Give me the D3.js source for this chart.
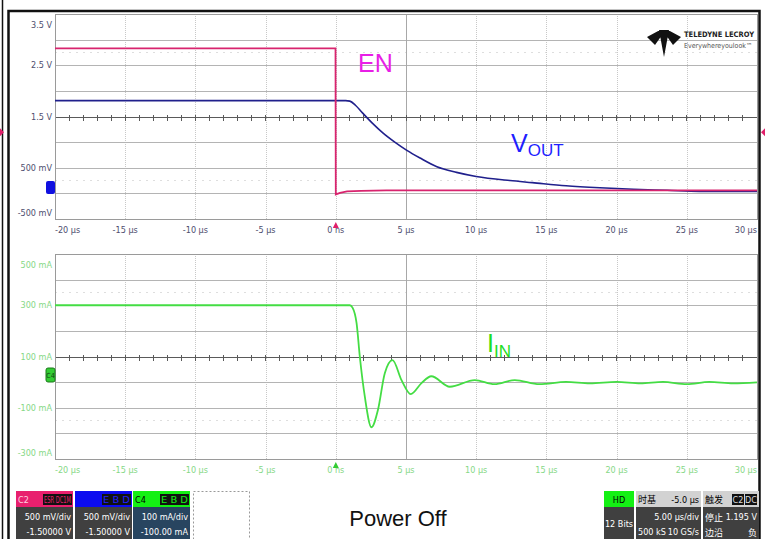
<!DOCTYPE html>
<meta charset="utf-8">
<style>
body { margin: 0; background: #fff; }
svg { display: block; font-family: "Liberation Sans Narrow", "DejaVu Sans Condensed", "Liberation Sans", sans-serif; }
.grid line { stroke: #b4b4b4; shape-rendering: crispEdges; }
.vgrid line { stroke: #c8c8c8; stroke-dasharray: 1,1; shape-rendering: crispEdges; }
.faint line { stroke: #dedede; stroke-dasharray: 2,5; shape-rendering: crispEdges; }
.frame { fill: none; stroke: #9a9a9a; shape-rendering: crispEdges; }
.center line { stroke: #5a5a5a; shape-rendering: crispEdges; }
.trace { fill: none; }
.box text { font-size: 9px; }
</style>
<body>
<div id="scope"></div>
<script src="https://d3js.org/d3.v7.min.js"></script>
<script>

// time axis (µs)
var timeTicks = [-20, -15, -10, -5, 0, 5, 10, 15, 20, 25, 30];
var timeLabels = ["-20 µs", "-15 µs", "-10 µs", "-5 µs", "0 ns", "5 µs", "10 µs", "15 µs", "20 µs", "25 µs", "30 µs"];

// upper grid (V)
var voltTicks = [3.5, 2.5, 1.5, 0.5, -0.5];
var voltLabels = ["3.5 V", "2.5 V", "1.5 V", "500 mV", "-500 mV"];

// lower grid (mA)
var currTicks = [500, 300, 100, -100, -300];
var currLabels = ["500 mA", "300 mA", "100 mA", "-100 mA", "-300 mA"];

// EN (C2)
var enTime  = [-20, -0.02, 0, 0.3, 0.8, 1.8, 3.6, 10, 20, 30];
var enVolts = [2.83, 2.83, -0.02, 0.01, 0.04, 0.05, 0.06, 0.06, 0.06, 0.06];

// VOUT (C3)
var voutTime  = [-20, 0.7, 1.0, 1.4, 1.9, 2.6, 3.35, 4.2, 5.06, 6.0, 7.2, 8.6, 10.0, 12.4, 14.0, 16.4, 18.8, 21.2, 23.6, 25.9, 30];
var voutVolts = [1.81, 1.81, 1.80, 1.72, 1.57, 1.37, 1.18, 1.0, 0.84, 0.69, 0.52, 0.41, 0.33, 0.25, 0.21, 0.15, 0.11, 0.08, 0.06, 0.04, 0.04];

// IIN (C4, mA)
var iinTime = [-20, 1.0, 1.2, 1.48, 1.71, 2.07, 2.54, 3.0, 3.49, 4.04, 4.68, 5.34, 6.1, 6.8, 8.12, 9.9, 11.3, 12.75, 14.5, 16.4, 18.1, 20.0, 21.7, 23.3, 25.0, 26.6, 28.3, 30];
var iinAmps = [300, 300, 290, 230, 100, -58, -176, -109, 35, 86, 8, -47, -4, 23, -18, 8, -8, 8, -8, 1, -5, 1, -5, 1, -8, 1, -5, -1];

var width = 768, height = 539;

var svg = d3.select("#scope").append("svg")
    .attr("width", width)
    .attr("height", height);

var x = d3.scaleLinear().domain([-20, 30]).range([55, 757]);
var yV = d3.scaleLinear().domain([-0.5, 3.5]).range([219, 14]);
var yI = d3.scaleLinear().domain([-300, 500]).range([459, 254]);

// outer frame
svg.append("line").attr("x1", 2.5).attr("x2", 2.5).attr("y1", 0).attr("y2", height).attr("stroke", "#111").attr("stroke-width", 1.5);
svg.append("path").attr("d", "M8.5,539V11H759.5V539").attr("fill", "none").attr("stroke", "#111").attr("stroke-width", 2.5);

function panel(y, ticks, labels, labelColor, markColor, faintRows) {
  var g = svg.append("g");
  var top = y.range()[1], bottom = y.range()[0];
  var divs = d3.range(0, 9).map(function(i) { return top + i * (bottom - top) / 8; });
  var xdiv = (x.range()[1] - x.range()[0]) / 10;

  // faint rows
  g.append("g").attr("class", "faint").selectAll("line")
      .data(faintRows)
    .enter().append("line")
      .attr("x1", x.range()[0]).attr("x2", x.range()[1])
      .attr("y1", function(d) { return top + d * (bottom - top) / 8; })
      .attr("y2", function(d) { return top + d * (bottom - top) / 8; });

  // vertical dotted grid
  g.append("g").attr("class", "vgrid").selectAll("line")
      .data(timeTicks.filter(function(t) { return t != 5 && t != -20 && t != 30; }))
    .enter().append("line")
      .attr("x1", function(d) { return Math.round(x(d)) + 0.5; })
      .attr("x2", function(d) { return Math.round(x(d)) + 0.5; })
      .attr("y1", top).attr("y2", bottom);

  // horizontal grid
  g.append("g").attr("class", "grid").selectAll("line")
      .data(divs)
    .enter().append("line")
      .attr("x1", x.range()[0]).attr("x2", x.range()[1])
      .attr("y1", function(d) { return Math.round(d) + 0.5; })
      .attr("y2", function(d) { return Math.round(d) + 0.5; });

  // centre lines with minor ticks
  var cy = Math.round(divs[4]) + 0.5, cx = Math.round(x(5)) + 0.5;
  var c = g.append("g").attr("class", "center");
  c.append("line").attr("x1", x.range()[0]).attr("x2", x.range()[1]).attr("y1", cy).attr("y2", cy);
  c.append("line").attr("x1", cx).attr("x2", cx).attr("y1", top).attr("y2", bottom).style("stroke", "#a8a8a8");
  c.selectAll(".tk")
      .data(d3.range(1, 50))
    .enter().append("line")
      .attr("x1", function(i) { return x.range()[0] + i * xdiv / 5; })
      .attr("x2", function(i) { return x.range()[0] + i * xdiv / 5; })
      .attr("y1", cy - 3).attr("y2", cy + 3);

  g.append("rect").attr("class", "frame")
      .attr("x", x.range()[0] + 0.5).attr("y", top + 0.5)
      .attr("width", x.range()[1] - x.range()[0]).attr("height", bottom - top);

  // y labels
  g.selectAll(".ylab")
      .data(ticks)
    .enter().append("text")
      .attr("x", 52)
      .attr("y", function(d) { return Math.max(top + 11, Math.min(bottom - 6, y(d))); })
      .attr("dy", "0.35em")
      .attr("text-anchor", "end")
      .attr("font-size", 9)
      .attr("fill", labelColor)
      .text(function(d, i) { return labels[i]; });

  // x labels
  g.selectAll(".xlab")
      .data(timeTicks)
    .enter().append("text")
      .attr("x", function(d) { return x(d); })
      .attr("y", bottom + 14)
      .attr("text-anchor", function(d, i) { return i == 0 ? "start" : i == timeTicks.length - 1 ? "end" : "middle"; })
      .attr("font-size", 9)
      .attr("fill", labelColor)
      .text(function(d, i) { return timeLabels[i]; });

  // trigger position marker
  g.append("path")
      .attr("d", "M" + x(0) + "," + (bottom + 3) + "l-3,6h6z")
      .attr("fill", markColor);
  return g;
}

panel(yV, voltTicks, voltLabels, "#4e4e6e", "#e0206a", [1.5, 6.5]);
panel(yI, currTicks, currLabels, "#86d886", "#33cc33", [1.5, 6.5]);

// channel markers
svg.append("rect").attr("x", 46).attr("y", 181).attr("width", 9).attr("height", 13).attr("rx", 2).attr("fill", "#1010e0");
svg.append("rect").attr("x", 46).attr("y", 368).attr("width", 9).attr("height", 14).attr("rx", 2).attr("fill", "#33cc33").attr("stroke", "#1a7a1a");
svg.append("text").attr("x", 50.5).attr("y", 378).attr("text-anchor", "middle").attr("font-size", 7).attr("fill", "#114411").text("C4");
svg.append("path").attr("d", "M0," + (yV(1.195) - 4) + "l4,4l-4,4z").attr("fill", "#e0206a");
svg.append("path").attr("d", "M765," + (yV(1.195) - 4) + "l-4,4l4,4z").attr("fill", "#e0206a");

// traces
function pts(t, v) { return t.map(function(d, i) { return [d, v[i]]; }); }

svg.append("path").attr("class", "trace")
    .attr("stroke", "#20208c").attr("stroke-width", 1.6)
    .attr("d", d3.line().x(function(d) { return x(d[0]); }).y(function(d) { return yV(d[1]); }).curve(d3.curveMonotoneX)(pts(voutTime, voutVolts)));

svg.append("path").attr("class", "trace")
    .attr("stroke", "#d8246e").attr("stroke-width", 1.8)
    .attr("d", d3.line().x(function(d) { return x(d[0]); }).y(function(d) { return yV(d[1]); })(pts(enTime, enVolts)));

svg.append("path").attr("class", "trace")
    .attr("stroke", "#44dd44").attr("stroke-width", 1.8)
    .attr("d", d3.line().x(function(d) { return x(d[0]); }).y(function(d) { return yI(d[1]); }).curve(d3.curveMonotoneX)(pts(iinTime, iinAmps)));

// annotations
var ann = svg.append("g").attr("font-family", "Liberation Sans, Arial, sans-serif");
ann.append("text").attr("x", 358).attr("y", 72).attr("font-size", 25).attr("fill", "#e81ee6").text("EN");
var vt = ann.append("text").attr("x", 511).attr("y", 152).attr("font-size", 25).attr("fill", "#1f1fff");
vt.append("tspan").text("V");
vt.append("tspan").attr("dy", 4).attr("font-size", 17).text("OUT");
var it = ann.append("text").attr("x", 487).attr("y", 352).attr("font-size", 25).attr("fill", "#22dd22");
it.append("tspan").text("I");
it.append("tspan").attr("dy", 5).attr("font-size", 17).text("IN");
ann.append("text").attr("x", 398).attr("y", 526).attr("text-anchor", "middle").attr("font-size", 22).attr("fill", "#111").text("Power Off");

// logo
var logo = svg.append("g");
logo.append("path").attr("d", "M647,37L660,30L662,35L655,45Z M659,30H669L664,57Z M666,35L668,30L681,37L673,45Z").attr("fill", "#111");
logo.append("text").attr("x", 684).attr("y", 37).attr("font-size", 7.5).attr("font-weight", "bold").attr("fill", "#222").text("TELEDYNE LECROY");
logo.append("text").attr("x", 684).attr("y", 48).attr("font-size", 7).attr("fill", "#555").text("Everywhereyoulook™");

// bottom info bar
function box(x0, w, head, body) {
  var g = svg.append("g").attr("class", "box");
  g.append("rect").attr("x", x0).attr("y", 491).attr("width", w).attr("height", 16).attr("fill", head);
  g.append("rect").attr("x", x0).attr("y", 507).attr("width", w).attr("height", 32).attr("fill", body);
  return g;
}

var chans = [
  {x: 16, head: "#e8206e", body: "#404040", name: "C2", nameColor: "#ffd0e0", tag: "ESR DC1M", tagColor: "#e8206e", l1: "500 mV/div", l2: "-1.50000 V"},
  {x: 75, head: "#0c0cf0", body: "#404040", name: "", nameColor: "#0c0cf0", tag: "E B D", tagColor: "#2020ff", l1: "500 mV/div", l2: "-1.50000 V"},
  {x: 133, head: "#14f014", body: "#284560", name: "C4", nameColor: "#000", tag: "E B D", tagColor: "#14f014", l1: "100 mA/div", l2: "-100.00 mA"}
];
chans.forEach(function(c) {
  var g = box(c.x, 57, c.head, c.body);
  if (c.name) g.append("text").attr("x", c.x + 2).attr("y", 503).attr("fill", c.nameColor).text(c.name);
  g.append("rect").attr("x", c.x + 27).attr("y", 494).attr("width", 29).attr("height", 11).attr("fill", "#111");
  g.append("text").attr("x", c.x + 28).attr("y", 503).attr("font-size", 8).attr("fill", c.tagColor).text(c.tag)
      .attr("textLength", 27).attr("lengthAdjust", "spacingAndGlyphs");
  g.append("text").attr("x", c.x + 55).attr("y", 520).attr("text-anchor", "end").attr("fill", "#fff").text(c.l1);
  g.append("text").attr("x", c.x + 55).attr("y", 535).attr("text-anchor", "end").attr("fill", "#fff").text(c.l2);
});
svg.append("rect").attr("x", 193.5).attr("y", 491.5).attr("width", 56).attr("height", 50)
    .attr("fill", "#fff").attr("stroke", "#999").attr("stroke-dasharray", "2,2");

var hd = box(604, 30, "#14f014", "#404040");
hd.append("text").attr("x", 619).attr("y", 503).attr("text-anchor", "middle").attr("fill", "#000").text("HD");
hd.append("text").attr("x", 619).attr("y", 527).attr("text-anchor", "middle").attr("fill", "#fff").text("12 Bits");

var tb = box(636, 65, "#d2d2d2", "#404040");
tb.append("text").attr("x", 638).attr("y", 503).attr("font-family", "Noto Sans CJK SC").attr("fill", "#000").text("时基");
tb.append("text").attr("x", 699).attr("y", 503).attr("text-anchor", "end").attr("fill", "#000").text("-5.0 µs");
tb.append("text").attr("x", 699).attr("y", 520).attr("text-anchor", "end").attr("fill", "#fff").text("5.00 µs/div");
tb.append("text").attr("x", 638).attr("y", 535).attr("font-size", 8).attr("fill", "#fff").text("500 kS");
tb.append("text").attr("x", 699).attr("y", 535).attr("text-anchor", "end").attr("font-size", 8).attr("fill", "#fff").text("10 GS/s");

var tr = box(703, 56, "#d2d2d2", "#404040");
tr.append("text").attr("x", 705).attr("y", 503).attr("font-family", "Noto Sans CJK SC").attr("fill", "#000").text("触发");
tr.append("rect").attr("x", 732).attr("y", 494).attr("width", 12).attr("height", 11).attr("fill", "#111");
tr.append("rect").attr("x", 745).attr("y", 494).attr("width", 12).attr("height", 11).attr("fill", "#111");
tr.append("text").attr("x", 738).attr("y", 503).attr("text-anchor", "middle").attr("font-size", 7).attr("fill", "#ddd").text("C2");
tr.append("text").attr("x", 751).attr("y", 503).attr("text-anchor", "middle").attr("font-size", 7).attr("fill", "#ddd").text("DC");
tr.append("text").attr("x", 705).attr("y", 521).attr("font-family", "Noto Sans CJK SC").attr("font-size", 8).attr("fill", "#fff").text("停止");
tr.append("text").attr("x", 757).attr("y", 520).attr("text-anchor", "end").attr("font-size", 8).attr("fill", "#fff").text("1.195 V");
tr.append("text").attr("x", 705).attr("y", 536).attr("font-family", "Noto Sans CJK SC").attr("font-size", 8).attr("fill", "#fff").text("边沿");
tr.append("text").attr("x", 757).attr("y", 536).attr("text-anchor", "end").attr("font-family", "Noto Sans CJK SC").attr("font-size", 8).attr("fill", "#fff").text("负");

</script>
</body>
</html>
